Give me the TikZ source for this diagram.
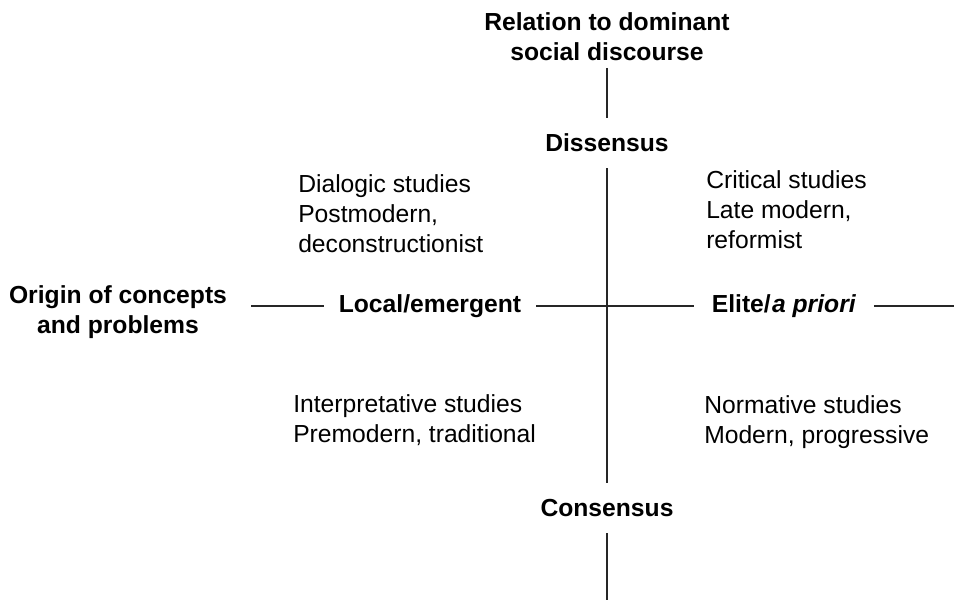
\documentclass[tikz,border=0pt]{standalone}
\usepackage{fontspec}
\setmainfont{Liberation Sans}
\usetikzlibrary{positioning}
\tikzset{
  axislabel/.style={font=\fontsize{18.5}{22.5}\selectfont\bfseries, align=center, inner xsep=11pt, inner ysep=12pt},
  quadtext/.style={font=\fontsize{18.5}{22.5}\selectfont, align=left, anchor=west, inner sep=0pt},
  axisline/.style={line width=1.2pt, black!85}
}
\begin{document}
\begin{tikzpicture}[x=0.75pt,y=-0.75pt]
\useasboundingbox (0,0) rectangle (954,600);
% axis labels
\node[axislabel, inner ysep=2pt] (title) at (607,37) {Relation to dominant\\social discourse};
\node[axislabel] (diss) at (607,143) {Dissensus};
\node[axislabel] (cons) at (607,508) {Consensus};
\node[axislabel, inner xsep=18pt] (origin) at (118,312) {Origin of concepts\\and problems};
\node[axislabel] (local) at (430,306) {Local/emergent};
\node[axislabel, inner xsep=13pt] (elite) at (784,306) {Elite/\kern1pt\textit{a priori}};
\coordinate (bottom) at (607,600);
\coordinate (right) at (954,306);
% axes
\draw[axisline, shorten <=3pt] (title.south) -- (diss.north);
\draw[axisline] (diss.south) -- (cons.north);
\draw[axisline] (cons.south) -- (bottom);
\draw[axisline] (origin.east |- local.west) -- (local.west);
\draw[axisline] (local.east) -- (elite.west);
\draw[axisline] (elite.east) -- (right);
% quadrants
\node[quadtext] (dialogic) at (298,214) {Dialogic studies\\Postmodern,\\deconstructionist};
\node[quadtext] (critical) at (706,210) {Critical studies\\Late modern,\\reformist};
\node[quadtext] (interp) at (293,420) {Interpretative studies\\Premodern, traditional};
\node[quadtext] (normative) at (704,422) {Normative studies\\Modern, progressive};
\end{tikzpicture}
\end{document}
